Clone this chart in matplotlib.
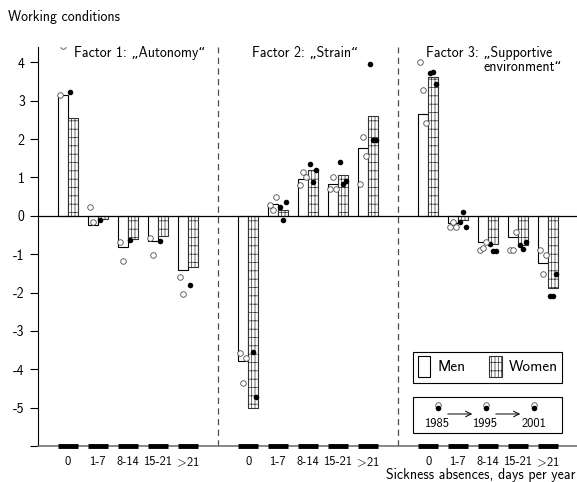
import matplotlib.pyplot as plt
import numpy as np
from matplotlib.patches import Rectangle

plt.rcParams['font.family'] = ['cmss10', 'DejaVu Sans']
plt.rcParams['mathtext.fontset'] = 'cm'
plt.rcParams['axes.unicode_minus'] = False
plt.rcParams['hatch.linewidth'] = 0.5

nan = np.nan

categories = ['0', '1-7', '8-14', '15-21', r'$\!>\!$21']
factor_titles = ['Factor 1: „Autonomy“', 'Factor 2: „Strain“',
                 'Factor 3: „Supportive', 'environment“']
years = ['1985', '1995', '2001']

# pooled factor scores per absence class
men_bars = [[3.15, -0.24, -0.80, -0.65, -1.42],
            [-3.78, 0.31, 0.96, 0.82, 1.76],
            [2.65, -0.20, -0.67, -0.56, -1.23]]
women_bars = [[2.55, -0.08, -0.60, -0.52, -1.33],
              [-5.00, 0.14, 1.20, 1.06, 2.60],
              [3.61, -0.12, -0.73, -0.75, -1.88]]

# survey years 1985, 1995, 2001 (left to right inside each bar)
men_years = [
    [[3.15, 4.42, nan], [0.23, -0.17, nan], [-0.69, -1.18, nan],
     [-0.59, -1.02, nan], [-1.60, -2.04, nan]],
    [[-3.58, -4.36, -3.71], [0.29, 0.14, 0.49], [0.81, 1.15, 1.02],
     [0.70, 1.01, 0.70], [0.83, 2.05, 1.55]],
    [[4.02, 3.28, 2.42], [-0.30, -0.15, -0.30], [-0.89, -0.84, -0.67],
     [-0.89, -0.89, -0.43], [-0.90, -1.51, -1.02]],
]
women_years = [
    [[3.22, nan, nan], [-0.12, nan, nan], [-0.63, nan, nan],
     [-0.66, nan, nan], [-1.80, nan, nan]],
    [[nan, -3.56, -4.73], [0.24, -0.10, 0.36], [1.35, 0.88, 1.20],
     [1.41, 0.83, 0.90], [3.95, 1.98, 1.98]],
    [[3.72, 3.76, 3.43], [-0.15, 0.09, -0.28], [-0.73, -0.93, -0.93],
     [-0.76, -0.87, -0.69], [-2.08, -2.08, -1.51]],
]

W = 1 / 3
HATCH = '|||||--'
YEAR_POS = [0.2, 0.5, 0.8]

fig = plt.figure(figsize=(5.77, 4.82), dpi=100)
ax = fig.add_axes([38 / 577, 36 / 482, 539 / 577, 399 / 482])

xt, xl = [], []
for g in range(3):
    x = np.arange(5) + 6 * g
    ax.bar(x - W / 2, men_bars[g], width=W, facecolor='white',
           edgecolor='black', linewidth=0.8, zorder=2)
    ax.bar(x + W / 2, women_bars[g], width=W, facecolor='white',
           edgecolor='0.2', hatch=HATCH, linewidth=0.8, zorder=2)
    for i in range(5):
        for k in range(3):
            ax.plot(x[i] - W + YEAR_POS[k] * W, men_years[g][i][k], 'o',
                    ms=4, mfc='white', mec='0.3', mew=0.6, zorder=3)
            ax.plot(x[i] + YEAR_POS[k] * W, women_years[g][i][k], 'o',
                    ms=4, mfc='black', mec='black', mew=0, zorder=3)
    ax.hlines(np.full(5, -6.0), x - W, x + W, color='black', lw=3.5,
              zorder=4, clip_on=False)
    xt += list(x)
    xl += categories

ax.text(0.2, 4.25, factor_titles[0], fontsize=10, va='center', ha='left')
ax.text(6.13, 4.25, factor_titles[1], fontsize=10, va='center', ha='left')
ax.text(11.93, 4.25, factor_titles[2], fontsize=10, va='center', ha='left')
ax.text(16.45, 3.88, factor_titles[3], fontsize=10, va='center', ha='right')

ax.axhline(0, color='black', lw=0.9, zorder=2.5)
for sep in (5, 11):
    ax.axvline(sep, color='0.3', lw=0.9, ls=(0, (5, 3.5)), zorder=1)

ax.set_xlim(-1, 16.95)
ax.set_ylim(-6, 4.4)
ax.set_xticks(xt, xl, fontsize=9)
ax.tick_params(axis='x', length=0, pad=7)
ax.set_yticks(range(-6, 5), [''] + [str(v) for v in range(-5, 5)],
              fontsize=10)
ax.tick_params(axis='y', length=6, width=0.8)
ax.spines['top'].set_visible(False)
ax.spines['right'].set_visible(False)
ax.spines['left'].set_linewidth(0.8)
ax.spines['bottom'].set_color('0.45')
ax.spines['bottom'].set_linewidth(1.2)

# legend: bar patterns
T = ax.transAxes
def ax_xy(px, py):
    return (px - 38) / 539, (446 - py) / 399

x0, y0 = ax_xy(413, 383)
x1, y1 = ax_xy(562, 352)
ax.add_patch(Rectangle((x0, y0), x1 - x0, y1 - y0, transform=T,
                       fill=False, edgecolor='black', lw=0.8, zorder=5))
px, py = ax_xy(418, 377)
ax.add_patch(Rectangle((px, py), 12 / 539, 21 / 399, transform=T,
                       facecolor='white', edgecolor='black', lw=0.8, zorder=5))
ax.text(*ax_xy(438, 367), 'Men', transform=T, fontsize=11, va='center')
px, py = ax_xy(489, 377)
ax.add_patch(Rectangle((px, py), 13 / 539, 21 / 399, transform=T,
                       facecolor='white', edgecolor='0.2', hatch=HATCH,
                       lw=0.8, zorder=5))
ax.text(*ax_xy(509, 367), 'Women', transform=T, fontsize=11, va='center')

# legend: survey years
x0, y0 = ax_xy(413, 433)
x1, y1 = ax_xy(562, 397)
ax.add_patch(Rectangle((x0, y0), x1 - x0, y1 - y0, transform=T,
                       fill=False, edgecolor='black', lw=0.8, zorder=5))
year_px = [437.5, 485.5, 534]
for k, lab in enumerate(years):
    ax.plot(*ax_xy(year_px[k], 404.5), 'o', ms=4, mfc='white', mec='0.3',
            mew=0.6, transform=T, zorder=6)
    ax.plot(*ax_xy(year_px[k], 408), 'o', ms=4, mfc='black', mew=0,
            transform=T, zorder=6)
    ax.text(*ax_xy(year_px[k], 424), lab, transform=T, fontsize=9,
            ha='center', va='center')
for a, b in ((445, 475), (493, 523)):
    ax.annotate('', xy=ax_xy(b, 414), xytext=ax_xy(a, 414),
                xycoords=T, textcoords=T,
                arrowprops=dict(arrowstyle='->', lw=0.7, color='black'))

fig.text(8 / 577, 1 - 17 / 482, 'Working conditions', fontsize=10,
         va='center', ha='left')
fig.text(575 / 577, 1 - 475 / 482, 'Sickness absences, days per year',
         fontsize=10, va='center', ha='right')

fig.savefig('out.png', dpi=100)
